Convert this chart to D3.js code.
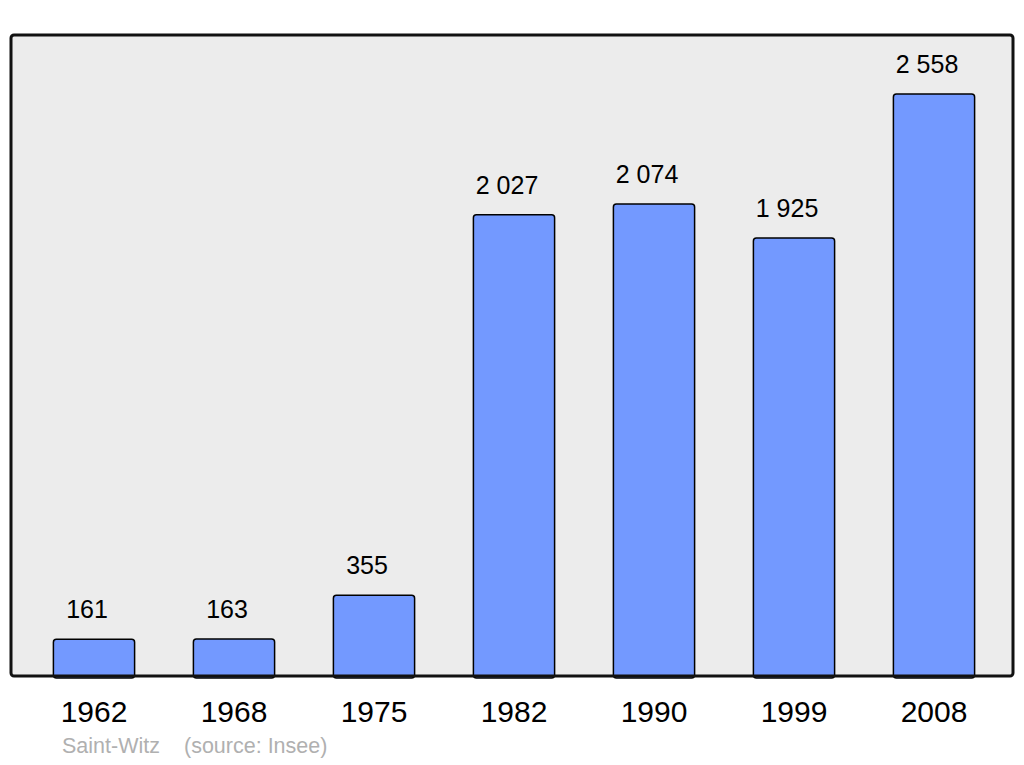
<!DOCTYPE html>
<html>
<head>
<meta charset="utf-8">
<script src="https://cdn.jsdelivr.net/npm/d3@7"></script>
<style>
  body { margin: 0; background: #fff; }
  text { font-family: "Liberation Sans", Arial, sans-serif; }
</style>
</head>
<body>
<div id="chart"></div>
<script>
var years = ["1962", "1968", "1975", "1982", "1990", "1999", "2008"];
var population = [161, 163, 355, 2027, 2074, 1925, 2558];
var town = "Saint-Witz";
var source = "(source: Insee)";

var width = 1024, height = 765;
var frame = {left: 11, right: 1013, top: 35, bottom: 676};

var svg = d3.select("#chart")
  .append("svg")
    .attr("width", width)
    .attr("height", height);

// background of the plot
svg.append("rect")
    .attr("x", frame.left)
    .attr("y", frame.top)
    .attr("width", frame.right - frame.left)
    .attr("height", frame.bottom - frame.top)
    .attr("rx", 3)
    .attr("fill", "#ececec");

var x = d3.scaleBand()
    .domain(years)
    .range([24, 1004])
    .paddingInner(0.42)
    .paddingOuter(0.21);

var y = d3.scaleLinear()
    .domain([0, d3.max(population)])
    .range([frame.bottom, 94]);

var fr = d3.formatLocale({decimal: ",", thousands: " ", grouping: [3], currency: ["", ""]});
var fmt = fr.format(",d");

var data = years.map(function(d, i){ return {year: d, value: population[i]}; });

svg.selectAll(".bar")
  .data(data)
  .enter().append("rect")
    .attr("class", "bar")
    .attr("x", function(d){ return x(d.year); })
    .attr("y", function(d){ return y(d.value); })
    .attr("width", x.bandwidth())
    .attr("height", function(d){ return frame.bottom - y(d.value) + 2; })
    .attr("rx", 3)
    .attr("fill", "#7399ff")
    .attr("stroke", "#000")
    .attr("stroke-width", 1.5);

svg.selectAll(".val")
  .data(data)
  .enter().append("text")
    .attr("class", "val")
    .attr("x", function(d){ return x(d.year) + x.bandwidth() / 2 - 7; })
    .attr("y", function(d){ return y(d.value) - 21; })
    .attr("text-anchor", "middle")
    .attr("font-size", "25px")
    .attr("fill", "#000")
    .text(function(d){ return fmt(d.value); });

// frame on top
svg.append("rect")
    .attr("x", frame.left)
    .attr("y", frame.top)
    .attr("width", frame.right - frame.left)
    .attr("height", frame.bottom - frame.top)
    .attr("rx", 3)
    .attr("fill", "none")
    .attr("stroke", "#111")
    .attr("stroke-width", 3);

// year labels
var xAxis = svg.append("g")
    .attr("transform", "translate(0," + frame.bottom + ")")
    .call(d3.axisBottom(x).tickSize(0).tickPadding(0));
xAxis.select(".domain").remove();
xAxis.selectAll("text")
    .attr("y", 46)
    .attr("dy", null)
    .attr("font-size", "30px")
    .attr("font-family", "Liberation Sans, Arial, sans-serif")
    .attr("fill", "#000");

svg.append("text")
    .attr("x", 62)
    .attr("y", 753)
    .attr("font-size", "21.5px")
    .attr("fill", "#b0b0b0")
    .text(town);

svg.append("text")
    .attr("x", 184)
    .attr("y", 753)
    .attr("font-size", "21.5px")
    .attr("fill", "#b0b0b0")
    .text(source);
</script>
</body>
</html>
